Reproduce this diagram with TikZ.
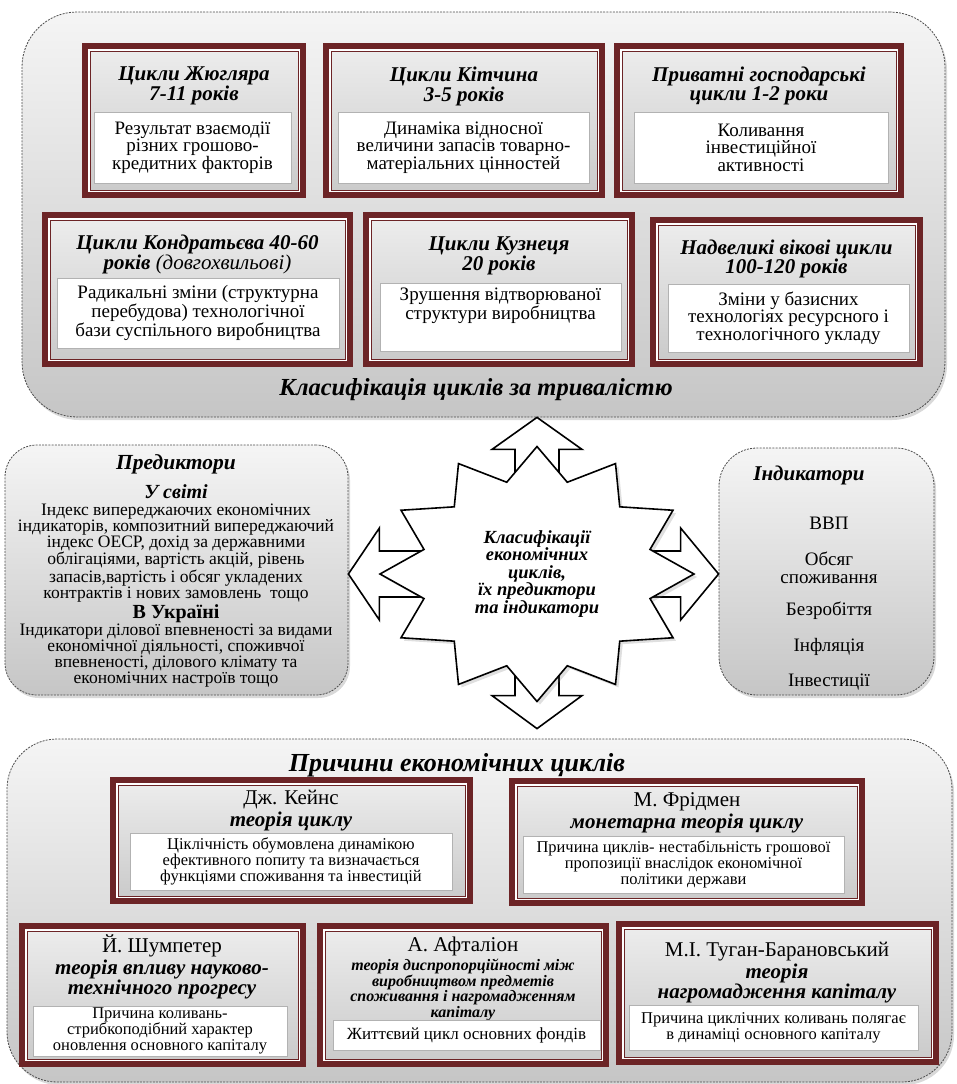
\documentclass[tikz,border=0pt]{standalone}
\usepackage{fontspec}
\setmainfont{Liberation Serif}
\usetikzlibrary{calc, shadows}

\definecolor{maroon}{RGB}{108, 36, 38}

\newcommand{\fsz}[2]{\fontsize{#1}{#2}\selectfont}

\begin{document}
\begin{tikzpicture}[%
        x = 1pt,
        y = -1pt,
        panel/.style = {
            draw = black!70,
            dash pattern = on 2pt off 1.2pt,
            line width = 0.8pt,
            top color = gray!8,
            bottom color = gray!45,
            rounded corners = #1,
            drop shadow = {shadow xshift = 2pt, shadow yshift = -3pt, opacity = 0.3}
        },
        frame/.style 2 args = {
            draw = maroon,
            line width = 6pt,
            top color = gray!14,
            bottom color = gray!42,
            inner sep = 0pt,
            minimum width = #1,
            minimum height = #2
        },
        desc/.style 2 args = {
            draw = gray!60,
            line width = 0.8pt,
            fill = white,
            align = center,
            inner sep = 0pt,
            minimum width = #1,
            minimum height = #2,
            font = \fsz{19}{17.5}
        },
        head/.style = {align = center, font = \fsz{21}{19}\bfseries\itshape},
        who/.style = {align = center, font = \fsz{21}{20}},
        theory/.style = {align = center, font = \fsz{21}{20}\bfseries\itshape},
        plain/.style = {align = center, font = \fsz{17.5}{16}},
        blockarrow/.style = {draw, fill = white, line width = 1.6pt, line join = miter}
    ]

        \useasboundingbox (0, 0) rectangle (956, 1084);

        % Big panels.
        \node[panel = 55pt, minimum width = 923, minimum height = 405] (clspan) at (483.5, 214.5) {};
        \node[panel = 32pt, minimum width = 343, minimum height = 250] (pred) at (176.5, 570) {};
        \node[panel = 38pt, minimum width = 215, minimum height = 247] (ind) at (826.5, 571.5) {};
        \node[panel = 50pt, minimum width = 945, minimum height = 343] (caus) at (479.5, 910.5) {};

        % Frames of the cycles.
        \node[frame = {218}{149}] (zhug) at (194, 120.5) {};
        \node[frame = {276}{149}] (kitch) at (464, 120.5) {};
        \node[frame = {284}{149}] (priv) at (759, 120.5) {};
        \node[frame = {305}{149}] (kondr) at (197.5, 289.5) {};
        \node[frame = {266}{149}] (kuzn) at (499, 289.5) {};
        \node[frame = {267}{144}] (nadv) at (786.5, 292) {};

        % Frames of the theories.
        \node[frame = {357}{121}] (keyn) at (291.5, 840.5) {};
        \node[frame = {350}{122}] (frid) at (687, 842) {};
        \node[frame = {281}{138}] (shum) at (162.5, 995) {};
        \node[frame = {286}{138}] (aft) at (463, 995) {};
        \node[frame = {317}{138}] (tug) at (777.5, 993) {};

        % Thin inner line of every frame.
        \foreach \f in {zhug, kitch, priv, kondr, kuzn, nadv, keyn, frid, shum, aft, tug} {
            \draw[white, line width = 1.5pt]
                ([shift = {(6.75, 6.75)}]\f.north west) rectangle ([shift = {(-6.75, -6.75)}]\f.south east);
            \draw[maroon, line width = 1pt]
                ([shift = {(8, 8)}]\f.north west) rectangle ([shift = {(-8, -8)}]\f.south east);
        }

        % Cycles by duration.
        \node[head] (zhugh) at (194, 86) {Цикли Жюгляра\\7-11 років};
        \node[head] (kitchh) at (464, 86) {Цикли Кітчина\\3-5 років};
        \node[head] (privh) at (759, 86) {Приватні господарські\\цикли 1-2 роки};
        \node[head] (kondrh) at (197.5, 254) {Цикли Кондратьєва 40-60\\років {\mdseries(довгохвильові)}};
        \node[head] (kuznh) at (499, 256) {Цикли Кузнеця\\20 років};
        \node[head] (nadvh) at (786.5, 258.5) {Надвеликі вікові цикли\\100-120 років};

        \node[desc = {197}{71}] (zhugd) at (192.5, 147.5) {Результат взаємодії\\різних грошово-\\кредитних факторів};
        \node[desc = {251}{71}] (kitchd) at (463.5, 147.5) {Динаміка відносної\\величини запасів товарно-\\матеріальних цінностей};
        \node[desc = {254}{71}] (privd) at (761, 147.5) {Коливання\\інвестиційної\\активності};
        \node[desc = {282}{70}] (kondrd) at (198, 313) {Радикальні зміни (структурна\\перебудова) технологічної\\бази суспільного виробництва};
        \node[desc = {241}{68}] (kuznd) at (500.5, 317)
            {\parbox[c][58pt][t]{236pt}{\centering Зрушення відтворюваної\\структури виробництва}};
        \node[desc = {241}{68}] (nadvd) at (788.5, 318) {Зміни у базисних\\технологіях ресурсного і\\технологічного укладу};

        \node[font = \fsz{24.5}{24}\bfseries\itshape] (clstitle) at (476, 390) {Класифікація циклів за тривалістю};

        % Predictors.
        \node[head, font = \fsz{21.5}{20}\bfseries\itshape] (predh) at (176, 464) {Предиктори};
        \node[head, font = \fsz{20}{19}\bfseries\itshape] (worldh) at (176, 492) {У світі};
        \node[plain] (worldt) at (176, 553) {Індекс випереджаючих економічних\\
            індикаторів, композитний випереджаючий\\
            індекс ОЕСР, дохід за державними\\
            облігаціями, вартість акцій, рівень\\
            запасів,вартість і обсяг укладених\\
            контрактів і нових замовлень \ тощо};
        \node[font = \fsz{20}{20}\bfseries] (uah) at (176, 614) {В Україні};
        \node[plain] (uat) at (176, 656) {Індикатори ділової впевненості за видами\\
            економічної діяльності, споживчої\\
            впевненості, ділового клімату та\\
            економічних настроїв тощо};

        % Indicators.
        \node[head] (indh) at (809, 475) {Індикатори};
        \node[plain, font = \fsz{19}{18}] (gdp) at (829, 523) {ВВП};
        \node[plain, font = \fsz{19}{18}] (cons) at (829, 568) {Обсяг\\споживання};
        \node[plain, font = \fsz{19}{18}] (unemp) at (829, 611) {Безробіття};
        \node[plain, font = \fsz{19}{18}] (infl) at (829, 647) {Інфляція};
        \node[plain, font = \fsz{19}{18}] (inv) at (829, 682) {Інвестиції};

        % Causes of the cycles.
        \node[font = \fsz{26}{26}\bfseries\itshape] (caustitle) at (457, 765) {Причини економічних циклів};

        \node[who] (keynn) at (291, 800) {Дж. Кейнс};
        \node[theory] (keynt) at (291, 821) {теорія циклу};
        \node[desc = {322}{57}, font = \fsz{16.5}{16}] (keynd) at (291, 861.5) {Ціклічність обумовлена динамікою\\ефективного попиту та визначається\\функціями споживання та інвестицій};

        \node[who] (fridn) at (687, 802) {М. Фрідмен};
        \node[theory] (fridt) at (687, 823) {монетарна теорія циклу};
        \node[desc = {321}{57}, font = \fsz{16.5}{16}] (fridd) at (683.5, 864.5) {Причина циклів- нестабільність грошової\\пропозиції внаслідок економічної\\політики держави};

        \node[who] (shumn) at (162, 946) {Й. Шумпетер};
        \node[theory] (shumt) at (162, 979) {теорія впливу науково-\\технічного прогресу};
        \node[desc = {254}{50}, font = \fsz{16.5}{16}] (shumd) at (160, 1031) {Причина коливань-\\стрибкоподібний характер\\оновлення основного капіталу};

        \node[who] (aftn) at (463, 946) {А. Афталіон};
        \node[theory, font = \fsz{16}{15.5}\bfseries\itshape] (aftt) at (463, 990) {теорія диспропорційності між\\виробництвом предметів\\споживання і нагромадженням\\капіталу};
        \node[desc = {267}{30}, font = \fsz{17}{16}] (aftd) at (466.5, 1035) {Життєвий цикл основних фондів};

        \node[who] (tugn) at (777, 952) {М.І. Туган-Барановський};
        \node[theory] (tugt) at (777, 983.5) {теорія\\нагромадження капіталу};
        \node[desc = {289}{45}, font = \fsz{16.5}{16}] (tugd) at (773.5, 1027.5) {Причина циклічних коливань полягає\\в динаміці основного капіталу};

        % Block arrows from the middle to the panels.
        \coordinate (mid) at (537, 574);
        \coordinate (tipN) at (mid |- clspan.south);
        \coordinate (tipS) at ([yshift = 10pt]mid |- caus.north);
        \coordinate (tipW) at (mid -| pred.east);
        \coordinate (tipE) at (mid -| ind.west);

        \draw[blockarrow] (tipN) -- ++(45, 32) -- ++(-23, 0) -- ++(0, 90) -- ++(-44, 0)
            -- ++(0, -90) -- ++(-23, 0) -- cycle;
        \draw[blockarrow] (tipS) -- ++(45, -33) -- ++(-23, 0) -- ++(0, -90) -- ++(-44, 0)
            -- ++(0, 90) -- ++(-23, 0) -- cycle;
        \draw[blockarrow] (tipW) -- ++(31, -46) -- ++(0, 23) -- ++(100, 0) -- ++(0, 46)
            -- ++(-100, 0) -- ++(0, 23) -- cycle;
        \draw[blockarrow] (tipE) -- ++(-38, -46) -- ++(0, 23) -- ++(-100, 0) -- ++(0, 46)
            -- ++(100, 0) -- ++(0, 23) -- cycle;

        % Star in the middle, over the arrow shafts.
        \draw[blockarrow, drop shadow = {shadow xshift = 3pt, shadow yshift = -3pt, opacity = 0.25}]
            ($(mid) + (0:157 and 127.5)$)
            \foreach \a [evaluate = \a as \b using \a + 15] in {15, 45, ..., 345} {
                -- ($(mid) + (\a:117 and 95)$) -- ($(mid) + (\b:157 and 127.5)$)
            } -- cycle;

        \node[font = \fsz{18.5}{17.5}\bfseries\itshape, align = center] (core) at (mid)
            {Класифікації\\економічних\\циклів,\\їх предиктори\\та індикатори};
    \end{tikzpicture}
\end{document}
